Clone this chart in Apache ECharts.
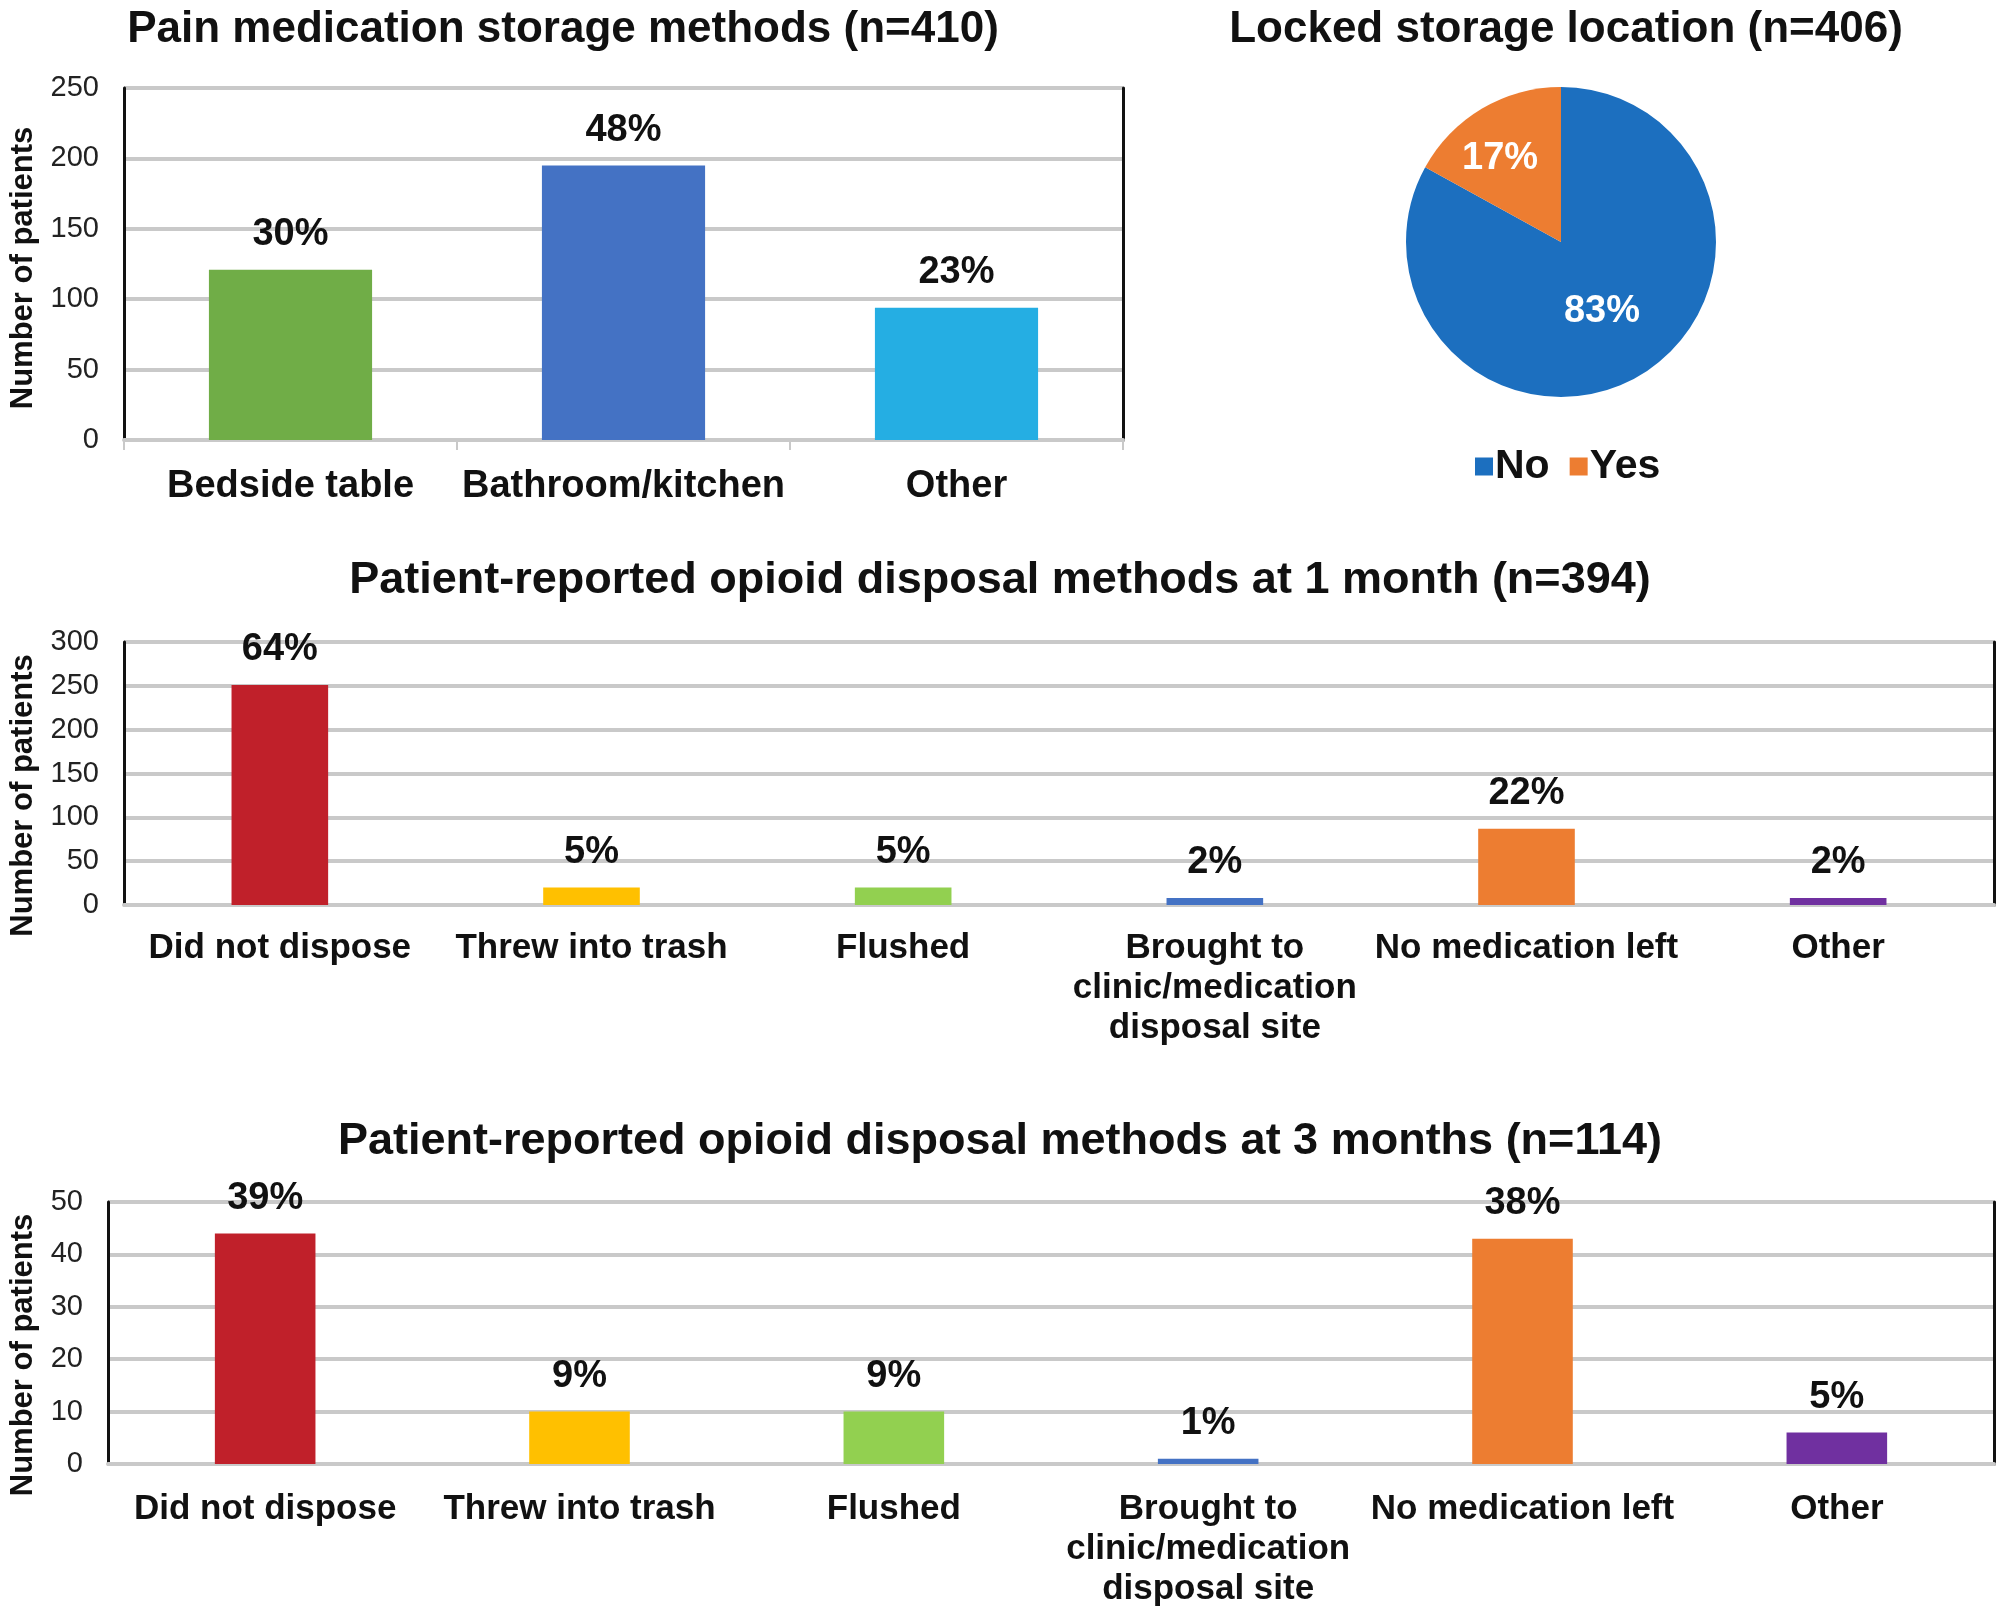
<!DOCTYPE html>
<html>
<head>
<meta charset="utf-8">
<script src="https://cdn.jsdelivr.net/npm/echarts@6/dist/echarts.min.js"></script>
<style>
html,body{margin:0;padding:0;background:#fff;}
#c{width:2001px;height:1612px;}
</style>
</head>
<body>
<div id="c"></div>
<script>
// ---- Data ----
const storageCats = ['Bedside table', 'Bathroom/kitchen', 'Other'];
const storageVals = [121, 195, 94];
const storagePct = ['30%', '48%', '23%'];
const storageTicks = [0, 50, 100, 150, 200, 250];

const lockedCats = ['No', 'Yes'];
const lockedVals = [337, 69];
const lockedPct = ['83%', '17%'];

const disposalCats = ['Did not dispose', 'Threw into trash', 'Flushed', 'Brought to\nclinic/medication\ndisposal site', 'No medication left', 'Other'];
const month1Vals = [251, 20, 20, 8, 87, 8];
const month1Pct = ['64%', '5%', '5%', '2%', '22%', '2%'];
const month1Ticks = [0, 50, 100, 150, 200, 250, 300];
const month3Vals = [44, 10, 10, 1, 43, 6];
const month3Pct = ['39%', '9%', '9%', '1%', '38%', '5%'];
const month3Ticks = [0, 10, 20, 30, 40, 50];

// ---- Styles ----
const FONT = 'Liberation Sans, Arial, sans-serif';
const GRIDC = '#C9C9C9';
const storageColors = ['#70AD47', '#4472C4', '#25AEE3'];
const disposalColors = ['#C0202A', '#FFC000', '#92D050', '#4472C4', '#ED7D31', '#7030A0'];
const pieColors = ['#1C6FBF', '#ED7D31'];

function titleOpt(text, x, y, fs) {
  return { text, left: x, top: y, textAlign: 'center',
    textStyle: { fontFamily: FONT, fontWeight: 'bold', fontSize: fs, color: '#111' } };
}
function yAxisOpt(gi, ticks, nameGap, namePad) {
  const min = ticks[0], max = ticks[ticks.length - 1], interval = ticks[1] - ticks[0];
  return {
    type: 'value', gridIndex: gi, min, max, interval,
    name: 'Number of patients', nameLocation: 'middle', nameGap, nameRotate: 90,
    nameTextStyle: { fontFamily: FONT, fontWeight: 'bold', fontSize: 31, color: '#111', padding: namePad },
    axisLine: { show: true, lineStyle: { color: '#111', width: 3 } },
    axisTick: { show: false },
    axisLabel: { fontFamily: FONT, fontSize: 29, color: '#222', margin: 25 },
    splitLine: { show: true, lineStyle: { color: GRIDC, width: 4 } }
  };
}
function rightAxisOpt(gi, ticks) {
  return { type: 'value', gridIndex: gi, position: 'right', min: ticks[0], max: ticks[ticks.length - 1],
    axisLine: { show: true, lineStyle: { color: '#111', width: 3 } },
    axisTick: { show: false }, axisLabel: { show: false }, splitLine: { show: false } };
}
function xAxisOpt(gi, cats, ticksShown, margin, fontSize) {
  return {
    type: 'category', gridIndex: gi, data: cats,
    axisLine: { show: true, onZero: false, lineStyle: { color: GRIDC, width: 4 } },
    axisTick: { show: ticksShown, alignWithLabel: false, length: 10, lineStyle: { color: GRIDC, width: 2 } },
    axisLabel: { fontFamily: FONT, fontWeight: 'bold', fontSize, color: '#111', margin, interval: 0, lineHeight: 40 }
  };
}
function barSeries(gi, vals, colors, pct, barWidth, fontSize) {
  return {
    type: 'bar', xAxisIndex: gi, yAxisIndex: gi * 2, barWidth,
    data: vals.map((v, i) => ({ value: v, itemStyle: { color: colors[i] } })),
    label: { show: true, position: 'top', distance: 16, formatter: p => pct[p.dataIndex],
      fontFamily: FONT, fontWeight: 'bold', fontSize, color: '#111' },
    silent: true, animation: false
  };
}

const chart = echarts.init(document.getElementById('c'), null, { renderer: 'canvas' });
chart.setOption({
  backgroundColor: '#fff',
  animation: false,
  title: [
    titleOpt('Pain medication storage methods (n=410)', 558, 3, 44),
    titleOpt('Locked storage location (n=406)', 1561, 3, 44),
    titleOpt('Patient-reported opioid disposal methods at 1 month (n=394)', 995, 553, 45),
    titleOpt('Patient-reported opioid disposal methods at 3 months (n=114)', 995, 1114, 45)
  ],
  legend: {
    data: lockedCats, left: 1470, top: 441,
    icon: 'rect', itemWidth: 18, itemHeight: 18, itemGap: 20,
    textStyle: { fontFamily: FONT, fontWeight: 'bold', fontSize: 41, color: '#111', padding: [0, 0, 0, -3] }
  },
  grid: [
    { left: 120, right: 878, top: 88, bottom: 1172 },
    { left: 120, right: 7, top: 642, bottom: 707 },
    { left: 104, right: 7, top: 1202, bottom: 148 }
  ],
  xAxis: [
    xAxisOpt(0, storageCats, true, 27, 38),
    xAxisOpt(1, disposalCats, false, 23, 35),
    xAxisOpt(2, disposalCats, false, 25, 35)
  ],
  yAxis: [
    yAxisOpt(0, storageTicks, 85, [0, 8, 0, 0]), rightAxisOpt(0, storageTicks),
    yAxisOpt(1, month1Ticks, 85, [0, 44, 0, 0]), rightAxisOpt(1, month1Ticks),
    yAxisOpt(2, month3Ticks, 69, [0, 44, 0, 0]), rightAxisOpt(2, month3Ticks)
  ],
  series: [
    barSeries(0, storageVals, storageColors, storagePct, '49%', 38),
    barSeries(1, month1Vals, disposalColors, month1Pct, '31%', 38),
    barSeries(2, month3Vals, disposalColors, month3Pct, '32%', 38),
    {
      type: 'pie', center: [1561, 242], radius: 155, startAngle: 90, clockwise: true,
      silent: true, animation: false,
      data: lockedCats.map((c, i) => ({
        name: c, value: lockedVals[i], itemStyle: { color: pieColors[i] },
        label: i === 1 ? { offset: [-20, -14] } : {}
      })),
      label: { show: true, position: 'inside', formatter: p => lockedPct[p.dataIndex],
        fontFamily: FONT, fontWeight: 'bold', fontSize: 38, color: '#fff' },
      labelLine: { show: false }
    }
  ]
});
</script>
</body>
</html>
